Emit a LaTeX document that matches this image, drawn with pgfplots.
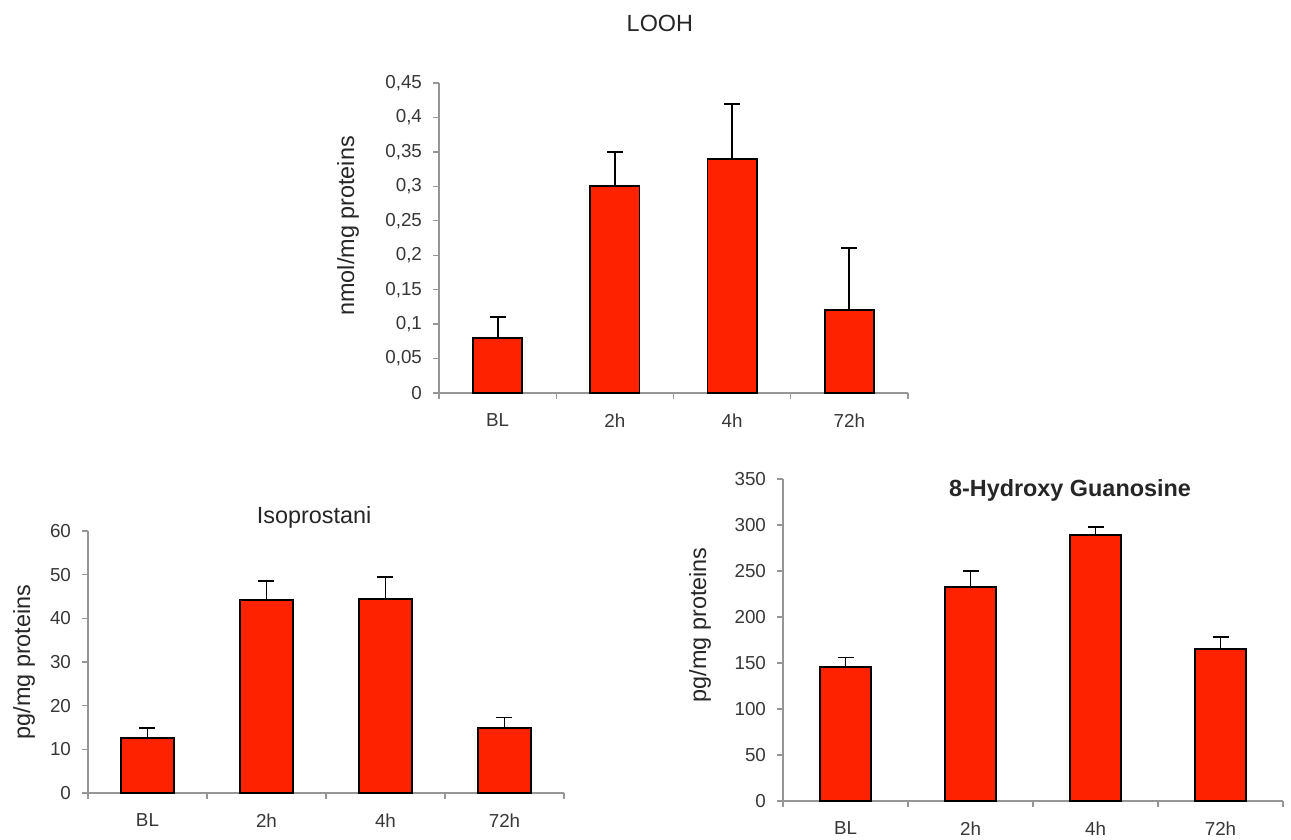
\documentclass[border=0pt]{standalone}
\usepackage{fontspec}
\setmainfont{Liberation Sans}
\usepackage{pgfplots}
\pgfplotsset{compat=1.18}
\definecolor{barred}{RGB}{255,34,0}
\definecolor{axgray}{RGB}{150,150,150}
\definecolor{tickgray}{RGB}{55,55,55}
\pgfplotsset{
  mybars/.style={
    scale only axis,
    anchor=south west,
    ybar,
    clip=false,
    axis lines*=left,
    axis line style={axgray, line width=0.7pt},
    xmin=-0.5, xmax=3.5,
    ymin=0,
    xtick={-0.5,0.5,1.5,2.5,3.5},
    xticklabels={BL,2h,4h,72h},
    x tick label as interval,
    tick align=outside,
    major tick length=3pt,
    tick style={axgray, line width=0.7pt},
    tick label style={font=\fontsize{9.4}{11}\selectfont, text=tickgray},
    xticklabel style={yshift=-4pt},
    yticklabel style={xshift=-2pt},
    scaled y ticks=false,
    ylabel style={font=\fontsize{11.7}{14}\selectfont, text=black!85, anchor=center},
    title style={font=\fontsize{11.7}{14}\selectfont, text=black!85, anchor=base, yshift=-6pt},
  },
  mybar/.style={
    fill=barred, draw=black, line width=0.9pt,
    error bars/.cd, y dir=plus, y explicit,
    error bar style={black, line width=0.9pt},
    error mark options={black, line width=0.9pt, mark size=4pt, rotate=90},
  }
}
\begin{document}
\begin{tikzpicture}
\path[use as bounding box] (0,0) rectangle (645.5pt,420pt);

% LOOH
\begin{axis}[mybars,
  at={(219.5pt,223.5pt)}, width=234.5pt, height=155pt,
  ymax=0.45,
  ytick={0,0.05,0.1,0.15,0.2,0.25,0.3,0.35,0.4,0.45},
  yticklabels={0,{0,05},{0,1},{0,15},{0,2},{0,25},{0,3},{0,35},{0,4},{0,45}},
  bar width=0.42,
  ylabel={nmol/mg proteins},
  ylabel style={at={(axis description cs:-0.194,0.539)}},
  title={LOOH},
  title style={at={(axis description cs:0.471,1.165)}},
]
\addplot[mybar] coordinates {
  (0,0.08) +- (0,0.03)
  (1,0.30) +- (0,0.05)
  (2,0.34) +- (0,0.08)
  (3,0.12) +- (0,0.09)
};
\end{axis}

% Isoprostani
\begin{axis}[mybars,
  at={(44pt,23.5pt)}, width=238pt, height=131pt,
  ymax=60,
  ytick={0,10,20,30,40,50,60},
  yticklabels={0,10,20,30,40,50,60},
  bar width=0.44,
  ylabel={pg/mg proteins},
  ylabel style={at={(axis description cs:-0.1345,0.5)}},
  title={Isoprostani},
  title style={at={(axis description cs:0.475,1.03)}},
]
\addplot[mybar] coordinates {
  (0,12.6) +- (0,2.3)
  (1,44.2) +- (0,4.4)
  (2,44.5) +- (0,5.0)
  (3,14.9) +- (0,2.4)
};
\end{axis}

% 8-Hydroxy Guanosine
\begin{axis}[mybars,
  at={(391.5pt,19.5pt)}, width=250pt, height=161pt,
  ymax=350,
  ytick={0,50,100,150,200,250,300,350},
  yticklabels={0,50,100,150,200,250,300,350},
  bar width=0.41,
  ylabel={pg/mg proteins},
  ylabel style={at={(axis description cs:-0.166,0.547)}},
  title={\bfseries 8-Hydroxy Guanosine},
  title style={at={(axis description cs:0.574,0.947)}},
]
\addplot[mybar] coordinates {
  (0,146) +- (0,10)
  (1,233) +- (0,17)
  (2,289) +- (0,8.5)
  (3,165) +- (0,13)
};
\end{axis}
\end{tikzpicture}
\end{document}
